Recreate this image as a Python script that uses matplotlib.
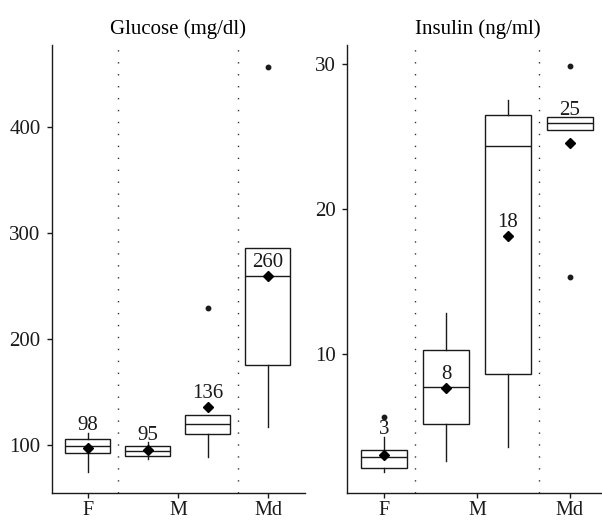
import matplotlib.pyplot as plt
import numpy as np

plt.rcParams['font.family'] = ['Liberation Serif', 'DejaVu Serif']
plt.rcParams['font.size'] = 15

# categories / positions of the four boxes (M has two boxes)
groups = ['F', 'M', 'Md']
box_pos = [0, 1, 2, 3]
tick_pos = [0, 1.5, 3]

# Glucose (mg/dl)
glu_lo = [74.3, 86.5, 89.0, 117.2]
glu_q1 = [92.5, 89.9, 110.6, 175.9]
glu_med = [99.1, 94.4, 120.0, 260.0]
glu_q3 = [105.9, 98.8, 128.9, 286.0]
glu_hi = [111.6, 102.5, 128.9, 286.0]
glu_mean = [97.7, 95.0, 136.0, 259.5]
glu_out = [[], [], [229.2], [456.8]]
glu_label_at = ['hi', 'hi', 'mean', 'mean']

# Insulin (ng/ml)
ins_lo = [1.86, 2.60, 3.57, 25.45]
ins_q1 = [2.12, 5.15, 8.64, 25.45]
ins_med = [2.88, 7.72, 24.34, 25.95]
ins_q3 = [3.40, 10.28, 26.48, 26.32]
ins_hi = [4.30, 12.80, 27.50, 26.32]
ins_mean = [3.03, 7.67, 18.10, 24.57]
ins_out = [[5.63], [], [], [29.88, 15.33]]
ins_label_at = ['hi', 'mean', 'mean', 'hi']

LC = '#1a1a1a'


def draw_panel(ax, title, lo, q1, med, q3, hi, mean, out, label_at, ylim, yticks):
    stats = []
    for i in range(len(box_pos)):
        stats.append(dict(whislo=lo[i], q1=q1[i], med=med[i], q3=q3[i],
                          whishi=hi[i], mean=mean[i], fliers=np.array(out[i])))
    ax.bxp(stats, positions=box_pos, widths=0.75, patch_artist=True,
           showmeans=True, showcaps=False,
           boxprops=dict(facecolor='white', edgecolor=LC, linewidth=1.0),
           medianprops=dict(color=LC, linewidth=1.0),
           whiskerprops=dict(color=LC, linewidth=1.0),
           flierprops=dict(marker='o', markerfacecolor=LC, markeredgecolor=LC,
                           markersize=3.2),
           meanprops=dict(marker='D', markerfacecolor='black',
                          markeredgecolor='black', markersize=5))

    # mean labels
    for i, x in enumerate(box_pos):
        if label_at[i] == 'hi':
            y, off = hi[i], 1.8
        else:
            y, off = mean[i], 6.5
        ax.annotate(f'{mean[i]:.0f}', xy=(x, y), xytext=(0, off),
                    textcoords='offset points', ha='center', va='baseline',
                    fontsize=15, color=LC)

    # group separators
    for xs in [0.5, 2.5]:
        ax.axvline(xs, color='#333333', linewidth=1.0, linestyle=(0, (1, 7.6)),
                   zorder=0)

    ax.set_title(title, fontsize=15, pad=8)
    ax.set_xlim(-0.6, 3.617)
    ax.set_ylim(*ylim)
    ax.set_xticks(tick_pos)
    ax.set_xticklabels(groups)
    ax.set_yticks(yticks)
    ax.spines['top'].set_visible(False)
    ax.spines['right'].set_visible(False)
    for s in ['left', 'bottom']:
        ax.spines[s].set_color(LC)
        ax.spines[s].set_linewidth(1.0)
    ax.tick_params(axis='both', direction='out', length=3.3, width=1.0,
                   color=LC, labelsize=15, labelcolor=LC)
    ax.tick_params(axis='x', pad=2.5, labelsize=14.5)
    ax.tick_params(axis='y', pad=5)


fig = plt.figure(figsize=(6.02, 5.22), dpi=100)
ax1 = fig.add_axes([52 / 602, 29.3 / 522, 253 / 602, 447.7 / 522])
ax2 = fig.add_axes([347 / 602, 29.3 / 522, 261 / 602, 447.7 / 522])

draw_panel(ax1, 'Glucose (mg/dl)', glu_lo, glu_q1, glu_med, glu_q3, glu_hi,
           glu_mean, glu_out, glu_label_at, (55.1, 477.8), [100, 200, 300, 400])
draw_panel(ax2, 'Insulin (ng/ml)', ins_lo, ins_q1, ins_med, ins_q3, ins_hi,
           ins_mean, ins_out, ins_label_at, (0.43, 31.3), [10, 20, 30])

fig.savefig('out.png', dpi=100)
